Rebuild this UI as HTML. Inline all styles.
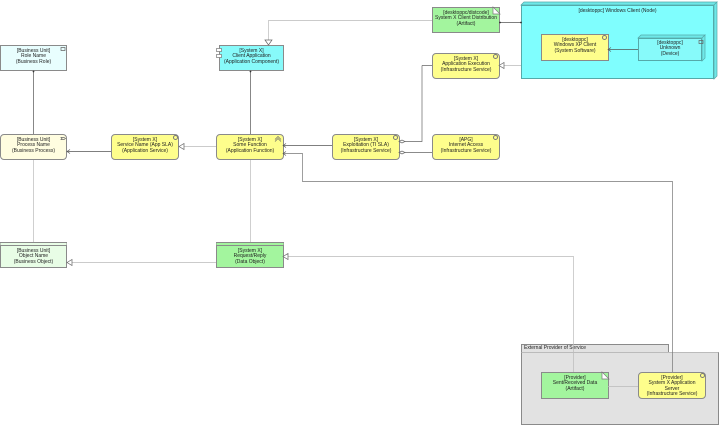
<!DOCTYPE html>
<html><head><meta charset="utf-8"><style>
body{margin:0;width:719px;height:425px;background:#fff;position:relative;overflow:hidden;font-family:"Liberation Sans",sans-serif}
.b{position:absolute;box-sizing:border-box;border:1px solid #8a8a8a;font-size:5px;line-height:5.3px;text-align:center;color:#222;padding-top:3px}
.r{border-radius:4px}
.y{background:#fefe8c}
.ly{background:#fffde0}
.c{background:#87fafa}
.lc{background:#e8fefe}
.g{background:#a3f59e}
.lg{background:#e8fde6}
svg{position:absolute;left:0;top:0}
.ic{position:absolute;box-sizing:border-box;border:0.7px solid #777;width:5px;height:5px;border-radius:50%}
</style></head><body>
<div class="b" style="left:521px;top:344px;width:148px;height:9px;background:#e2e2e2;text-align:left;padding:1px 0 0 2px">External Provider of Service</div>
<div class="b" style="left:521px;top:352px;width:198px;height:73px;background:#e2e2e2;border-top:1px solid #bbb"></div>
<div class="b" style="left:521px;top:5px;width:193px;height:74px;background:#7ffefe;border-color:#5aa">[desktoppc] Windows Client (Node)</div>

<div class="b lc" style="left:0;top:45px;width:67px;height:26px">[Business Unit]<br>Role Name<br>(Business Role)</div>
<div class="b c" style="left:219px;top:45px;width:65px;height:26px">[System X]<br>Client Application<br>(Application Component)</div>
<div class="b ly r" style="left:0;top:134px;width:67px;height:26px">[Business Unit]<br>Process Name<br>(Business Process)</div>
<div class="b y r" style="left:111px;top:134px;width:68px;height:26px">[System X]<br>Service Name (App SLA)<br>(Application Service)</div>
<div class="b y r" style="left:216px;top:134px;width:68px;height:26px">[System X]<br>Some Function<br>(Application Function)</div>
<div class="b y r" style="left:332px;top:134px;width:68px;height:26px">[System X]<br>Exploitation (TI SLA)<br>(Infrastructure Service)</div>
<div class="b y r" style="left:432px;top:134px;width:68px;height:26px">[APG]<br>Internet Access<br>(Infrastructure Service)</div>
<div class="b y r" style="left:432px;top:53px;width:68px;height:26px">[System X]<br>Application Execution<br>(Infrastructure Service)</div>
<div class="b g" style="left:432px;top:7px;width:68px;height:26px">[desktoppc/distcode]<br>System X Client Distribution<br>(Artifact)</div>
<div class="b y" style="left:541px;top:34px;width:68px;height:27px">[desktoppc]<br>Windows XP Client<br>(System Software)</div>
<div class="b c" style="left:638px;top:38px;width:64px;height:23px;border-color:#5aa;padding-top:2px">[desktoppc]<br>Unknown<br>(Device)</div>
<div class="b lg" style="left:0;top:242px;width:67px;height:26px;border-top:4px double #8a8a8a">[Business Unit]<br>Object Name<br>(Business Object)</div>
<div class="b g" style="left:216px;top:242px;width:68px;height:26px;border-top:4px double #8a8a8a">[System X]<br>Request/Reply<br>(Data Object)</div>
<div class="b g" style="left:541px;top:372px;width:68px;height:27px">[Provider]<br>Sent/Received Data<br>(Artifact)</div>
<div class="b y r" style="left:638px;top:372px;width:68px;height:27px">[Provider]<br>System X Application<br>Server<br>(Infrastructure Service)</div>

<div class="ic" style="left:173px;top:135px"></div>
<div class="ic" style="left:393px;top:135px"></div>
<div class="ic" style="left:493px;top:135px"></div>
<div class="ic" style="left:493px;top:54px"></div>
<div class="ic" style="left:602px;top:35px"></div>
<div class="ic" style="left:700px;top:373px"></div>

<svg width="719" height="425" fill="none" stroke-width="0.7">
<g stroke="#5aa" fill="#6ee8e8">
<path d="M521 5L524 2H717L714 5Z"/>
<path d="M714 5L717 2V76L714 79Z"/>
<path d="M638 38L641 35H705L702 38Z"/>
<path d="M702 38L705 35V58L702 61Z"/>
</g>
<g stroke="#777" fill="#fff">
<path d="M493 7L500 14H493Z"/>
<path d="M602 372L609 379H602Z"/>
<rect x="216.5" y="48.5" width="5" height="3"/>
<rect x="216.5" y="54.5" width="5" height="3"/>
</g>
<g stroke="#666">
<path d="M61 47.5H65V50.5H61Z M699 40.5H703V43.5H699Z"/>
<path d="M61 137.5H64L65.5 138.5L64 139.5H61L62 138.5Z"/>
<path d="M275 139.5L278 136.5L281 139.5M275 141.5L278 138.5L281 141.5"/>
</g>
<g stroke="#555">
<path d="M33.5 71V134M250.5 71V134M67 151.5H111M283 145.5H332M499 22.5H521M608 49.5H638"/>
<path d="M422 65.5H432M422 65.5V141.5H399M432 152.5H399" stroke="#666"/>
<path d="M283 153.5H302.5V181.5H672.5V372" stroke="#777"/>
</g>
<g stroke="#bbb">
<path d="M268.5 45V20.5H432M521 65.5H499M216 146.5H179M33.5 160V242M250.5 160V242M216 262.5H67M283 256.5H573.5V372M638 386.5H608"/>
</g>
<g stroke="#666" fill="#fff">
<path d="M265 40L268.5 45L272 40Z"/>
<path d="M179 146.5L184 143.5V149.5Z"/>
<path d="M499 65.5L504 62.5V68.5Z"/>
<path d="M67 262.5L72 259.5V265.5Z"/>
<path d="M283 256.5L288 253.5V259.5Z"/>
<path d="M399 141.5L402 140L405 141.5L402 143Z"/>
<path d="M399 152.5L402 151L405 152.5L402 154Z"/>
</g>
<g stroke="#555">
<path d="M70 149.5L67 151.5L70 153.5M286 143.5L283 145.5L286 147.5M286 151.5L283 153.5L286 155.5M611 47.5L608 49.5L611 51.5"/>
</g>
<g fill="#333"><circle cx="33.5" cy="71.5" r="0.9"/><circle cx="250.5" cy="71.5" r="0.9"/><circle cx="500" cy="22.5" r="0.9"/><circle cx="521" cy="22.5" r="0.9"/></g>
</svg>
</body></html>
